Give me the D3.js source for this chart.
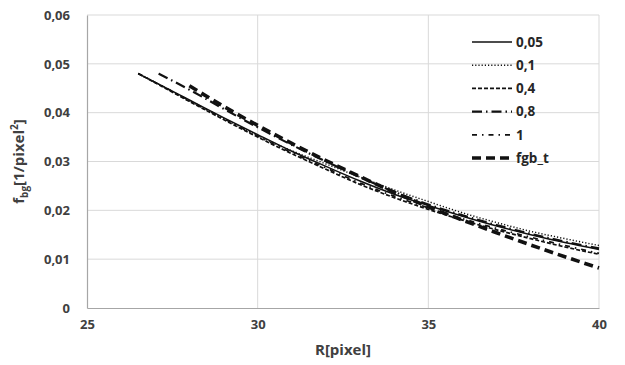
<!DOCTYPE html>
<html lang="en">
<head>
<meta charset="utf-8">
<title>f_bg vs R</title>
<script src="https://cdn.jsdelivr.net/npm/d3@7"></script>
<style>
  body { margin: 0; background: #fff; }
  svg { display: block; font-family: "Open Sans", "DejaVu Sans", sans-serif; }
</style>
</head>
<body>
<div id="chart"></div>
<script>
// data
var rLow  = [26.5, 27, 28, 29, 30, 31, 32, 33, 34, 35, 36, 37, 38, 39, 40];
var r08   = [27.1, 28, 29, 30, 31, 32, 33, 34, 35, 36, 37, 38, 39, 40];
var rFgb  = [28, 29, 30, 31, 32, 33, 34, 35, 36, 37, 38, 39, 40];

var s005 = [0.0480, 0.0462, 0.0426, 0.0390, 0.0355, 0.0321, 0.0290, 0.0260, 0.0233, 0.0210, 0.0188, 0.0168, 0.0150, 0.0134, 0.0120];
var s01  = [0.0480, 0.0462, 0.0424, 0.0388, 0.0353, 0.0322, 0.0295, 0.0268, 0.0242, 0.0218, 0.0195, 0.0175, 0.0157, 0.0142, 0.0128];
var s04  = [0.0480, 0.0461, 0.0423, 0.0386, 0.0350, 0.0316, 0.0284, 0.0253, 0.0226, 0.0202, 0.0180, 0.0160, 0.0142, 0.0125, 0.0110];
var s08  = [0.0480, 0.0447, 0.0408, 0.0370, 0.0334, 0.0300, 0.0268, 0.0238, 0.0212, 0.0190, 0.0170, 0.0152, 0.0136, 0.0122];
var s1   = [0.0480, 0.0462, 0.0425, 0.0388, 0.0352, 0.0318, 0.0287, 0.0256, 0.0229, 0.0205, 0.0183, 0.0163, 0.0145, 0.0128, 0.0112];
var sFgb = [0.0455, 0.0413, 0.0374, 0.0337, 0.0302, 0.0269, 0.0237, 0.0207, 0.0180, 0.0154, 0.0129, 0.0105, 0.0082];

var xTicks = [25, 30, 35, 40];
var yTicks = [0, 0.01, 0.02, 0.03, 0.04, 0.05, 0.06];

var series = [
  { name: "0,05",  r: rLow, v: s005, width: 1.5, dash: null },
  { name: "0,1",   r: rLow, v: s01,  width: 1.5, dash: "1.2,2" },
  { name: "0,4",   r: rLow, v: s04,  width: 1.7, dash: "4,2" },
  { name: "0,8",   r: r08,  v: s08,  width: 2.2, dash: "10,4,1.5,4" },
  { name: "1",     r: rLow, v: s1,   width: 1.7, dash: "5,5,1.5,5" },
  { name: "fgb_t", r: rFgb, v: sFgb, width: 3.6, dash: "9,5" }
];

var w = 625, h = 365;
var margin = { left: 87, right: 26, top: 15, bottom: 57 };

var svg = d3.select("#chart").append("svg")
  .attr("width", w)
  .attr("height", h);

var x = d3.scaleLinear().domain([25, 40]).range([margin.left, w - margin.right]);
var y = d3.scaleLinear().domain([0, 0.06]).range([h - margin.bottom, margin.top]);

var fmt = function(d) { return d === 0 ? "0" : d3.format(".2f")(d).replace(".", ","); };

// gridlines
svg.append("g").selectAll("line.gy")
  .data(yTicks.slice(1))
  .enter().append("line")
  .attr("x1", x(25)).attr("x2", x(40))
  .attr("y1", function(d) { return y(d); })
  .attr("y2", function(d) { return y(d); })
  .attr("stroke", "#d9d9d9").attr("stroke-width", 1);

svg.append("g").selectAll("line.gx")
  .data(xTicks.slice(1))
  .enter().append("line")
  .attr("x1", function(d) { return x(d); })
  .attr("x2", function(d) { return x(d); })
  .attr("y1", y(0)).attr("y2", y(0.06))
  .attr("stroke", "#d9d9d9").attr("stroke-width", 1);

// axes
var yAxis = svg.append("g")
  .attr("transform", "translate(" + margin.left + ",0)")
  .call(d3.axisLeft(y).tickValues(yTicks).tickFormat(fmt).tickSize(0).tickPadding(17));
var xAxis = svg.append("g")
  .attr("transform", "translate(0," + y(0) + ")")
  .call(d3.axisBottom(x).tickValues(xTicks).tickFormat(d3.format("d")).tickSize(0).tickPadding(12));

[xAxis, yAxis].forEach(function(a) {
  a.select(".domain").attr("stroke", "#a6a6a6").attr("stroke-width", 1.2);
  a.selectAll("text")
    .attr("font-size", "13px")
    .attr("font-weight", "bold")
    .attr("fill", "#404040")
    .attr("font-family", "'Open Sans', sans-serif");
});

// lines
var line = d3.line()
  .x(function(d) { return x(d[0]); })
  .y(function(d) { return y(d[1]); })
  .curve(d3.curveMonotoneX);

svg.append("g").selectAll("path.s")
  .data(series)
  .enter().append("path")
  .attr("d", function(s) { return line(d3.zip(s.r, s.v)); })
  .attr("fill", "none")
  .attr("stroke", "#111")
  .attr("stroke-width", function(s) { return s.width; })
  .attr("stroke-dasharray", function(s) { return s.dash; });

// legend
var leg = svg.append("g").attr("transform", "translate(472,42)");
var items = leg.selectAll("g")
  .data(series)
  .enter().append("g")
  .attr("transform", function(d, i) { return "translate(0," + (i * 23.2) + ")"; });

items.append("line")
  .attr("x1", 0).attr("x2", 40)
  .attr("y1", 0).attr("y2", 0)
  .attr("stroke", "#111")
  .attr("stroke-width", function(s) { return s.width; })
  .attr("stroke-dasharray", function(s) { return s.dash; });

items.append("text")
  .attr("x", 44).attr("y", 0).attr("dy", "0.35em")
  .attr("font-size", "13.5px")
  .attr("font-weight", "bold")
  .attr("fill", "#262626")
  .text(function(s) { return s.name; });

// axis titles
svg.append("text")
  .attr("x", x(32.5)).attr("y", 355)
  .attr("text-anchor", "middle")
  .attr("font-size", "15px")
  .attr("font-weight", "bold")
  .attr("fill", "#404040")
  .text("R[pixel]");

var yt = svg.append("text")
  .attr("transform", "translate(24," + y(0.03) + ") rotate(-90)")
  .attr("text-anchor", "middle")
  .attr("font-size", "15px")
  .attr("font-weight", "bold")
  .attr("fill", "#404040");
yt.append("tspan").text("f");
yt.append("tspan").attr("font-size", "10px").attr("dy", "4").text("bg");
yt.append("tspan").attr("dy", "-4").text("[1/pixel");
yt.append("tspan").attr("font-size", "10px").attr("dy", "-6").text("2");
yt.append("tspan").attr("dy", "6").text("]");
</script>
</body>
</html>
